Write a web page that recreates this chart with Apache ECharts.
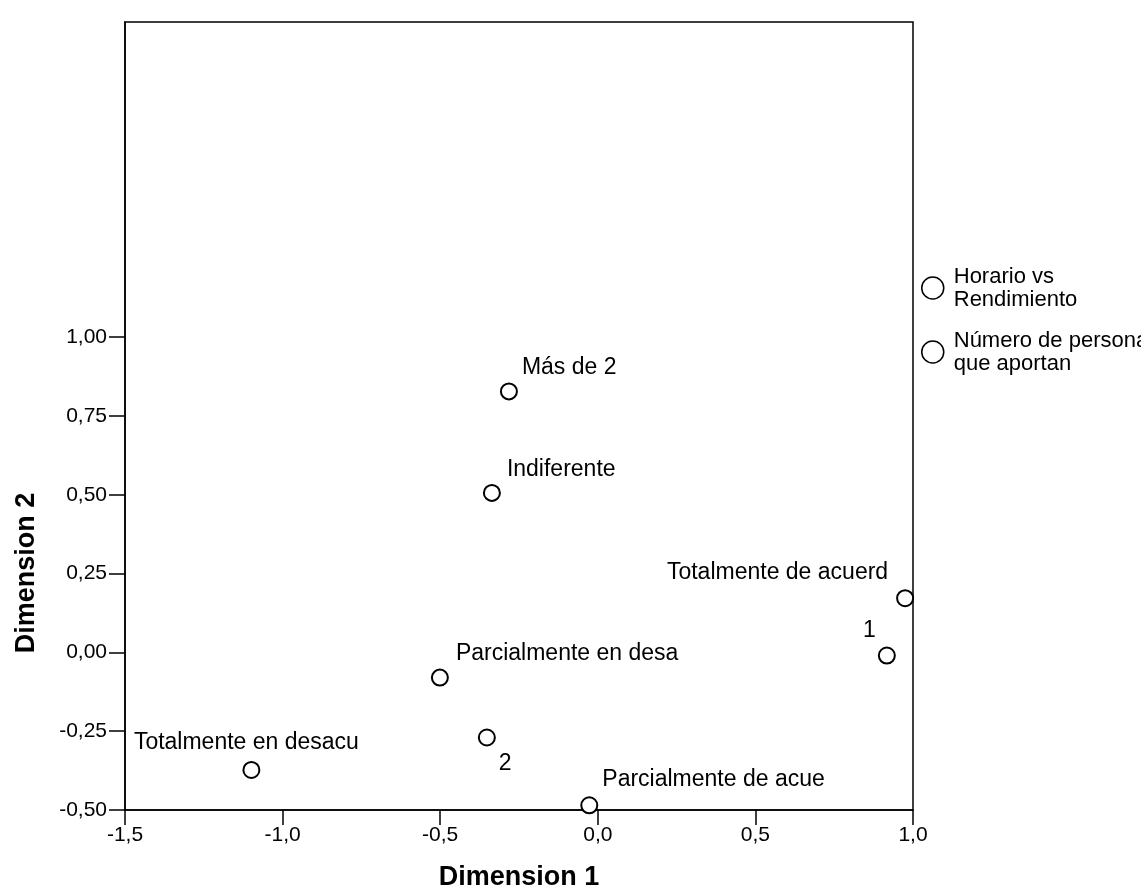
<!DOCTYPE html>
<html>
<head>
<meta charset="utf-8">
<script src="https://cdn.jsdelivr.net/npm/echarts@6/dist/echarts.min.js"></script>
<style>
  html, body { margin: 0; padding: 0; background: #fff; }
  #chart { width: 1141px; height: 889px; }
</style>
</head>
<body>
<div id="chart"></div>
<script>
// category points, Dimension 1 / Dimension 2
var horarioNames = ['Totalmente de acuerd', 'Parcialmente de acue', 'Indiferente', 'Parcialmente en desa', 'Totalmente en desacu'];
var horarioDim1 = [0.975, -0.027, -0.336, -0.501, -1.099];
var horarioDim2 = [0.172, -0.485, 0.506, -0.080, -0.373];

var personasNames = ['1', '2', 'Más de 2'];
var personasDim1 = [0.917, -0.352, -0.282];
var personasDim2 = [-0.010, -0.270, 0.828];

var seriesNames = ['Horario vs\nRendimiento', 'Número de personas\nque aportan'];

var xTicks = [-1.5, -1.0, -0.5, 0.0, 0.5, 1.0];
var yTicks = [-0.5, -0.25, 0.0, 0.25, 0.5, 0.75, 1.0];

// where each point label sits relative to its circle
var labelPlace = {
	'Totalmente de acuerd': { align: 'right', offset: [-17, -26] },
	'Parcialmente de acue': { align: 'left', offset: [13, -26] },
	'Indiferente': { align: 'left', offset: [15, -23] },
	'Parcialmente en desa': { align: 'left', offset: [16, -24] },
	'Totalmente en desacu': { align: 'center', offset: [-5, -27] },
	'1': { align: 'right', offset: [-11, -25] },
	'2': { align: 'left', offset: [12, 26] },
	'Más de 2': { align: 'left', offset: [13, -24] }
};

function comma(v, d) {
	return v.toFixed(d).replace('.', ',');
}

function buildPoints(names, d1, d2) {
	var out = [];
	for (var i = 0; i < names.length; i++) {
		var p = labelPlace[names[i]];
		out.push({
			name : names[i],
			value : [d1[i], d2[i]],
			label : {
				align : p.align,
				offset : p.offset
			}
		});
	}
	return out;
}

var pointStyle = {
	color : '#fff',
	borderColor : '#000',
	borderWidth : 2,
	opacity : 1
};

var pointLabel = {
	show : true,
	position : 'inside',
	verticalAlign : 'middle',
	formatter : '{b}',
	color : '#000',
	fontFamily : 'Liberation Sans',
	fontSize : 23
};

var chart = echarts.init(document.getElementById('chart'));
chart.setOption({
	backgroundColor : '#fff',
	animation : false,
	grid : {
		left : 125,
		right : 228,
		top : 22,
		bottom : 79,
		outerBoundsMode : 'none',
		containLabel : false,
		show : true,
		borderColor : '#000',
		borderWidth : 1.5
	},
	legend : {
		orient : 'vertical',
		left : 916,
		top : 260,
		itemWidth : 22,
		itemHeight : 22,
		itemGap : 18,
		icon : 'circle',
		itemStyle : {
			color : '#fff',
			borderColor : '#000',
			borderWidth : 1.5
		},
		textStyle : {
			color : '#000',
			fontFamily : 'Liberation Sans',
			fontSize : 22,
			lineHeight : 23,
			padding : [0, 0, 0, 5]
		},
		data : seriesNames
	},
	xAxis : {
		type : 'value',
		min : -1.5,
		max : 1.0,
		interval : 0.5,
		name : 'Dimension 1',
		nameLocation : 'middle',
		nameGap : 54,
		nameTextStyle : {
			color : '#000',
			fontFamily : 'Liberation Sans',
			fontWeight : 'bold',
			fontSize : 27
		},
		axisLine : { onZero : false, lineStyle : { color : '#000', width : 1.5 } },
		axisTick : { show : true, inside : false, length : 15, lineStyle : { color : '#000', width : 1.5 }, customValues : xTicks },
		axisLabel : {
			customValues : xTicks,
			margin : 15,
			color : '#000',
			fontFamily : 'Liberation Sans',
			fontSize : 21,
			formatter : function(v) { return comma(v, 1); }
		},
		splitLine : { show : false }
	},
	yAxis : {
		type : 'value',
		min : -0.5,
		max : 2.0,
		interval : 0.25,
		name : 'Dimension 2',
		nameLocation : 'middle',
		nameGap : 85,
		nameTextStyle : {
			color : '#000',
			fontFamily : 'Liberation Sans',
			fontWeight : 'bold',
			fontSize : 27,
			padding : [0, 314, 0, 0]
		},
		axisLine : { onZero : false, lineStyle : { color : '#000', width : 1.5 } },
		axisTick : { show : true, inside : false, length : 16, lineStyle : { color : '#000', width : 1.5 }, customValues : yTicks },
		axisLabel : {
			customValues : yTicks,
			margin : 18,
			color : '#000',
			fontFamily : 'Liberation Sans',
			fontSize : 21,
			formatter : function(v) { return v > 1.001 ? '' : comma(v, 2); }
		},
		splitLine : { show : false }
	},
	series : [ {
		name : seriesNames[0],
		type : 'scatter',
		symbol : 'circle',
		symbolSize : 16,
		itemStyle : pointStyle,
		label : pointLabel,
		emphasis : { disabled : true },
		data : buildPoints(horarioNames, horarioDim1, horarioDim2)
	}, {
		name : seriesNames[1],
		type : 'scatter',
		symbol : 'circle',
		symbolSize : 16,
		itemStyle : pointStyle,
		label : pointLabel,
		emphasis : { disabled : true },
		data : buildPoints(personasNames, personasDim1, personasDim2)
	} ]
});
</script>
</body>
</html>
